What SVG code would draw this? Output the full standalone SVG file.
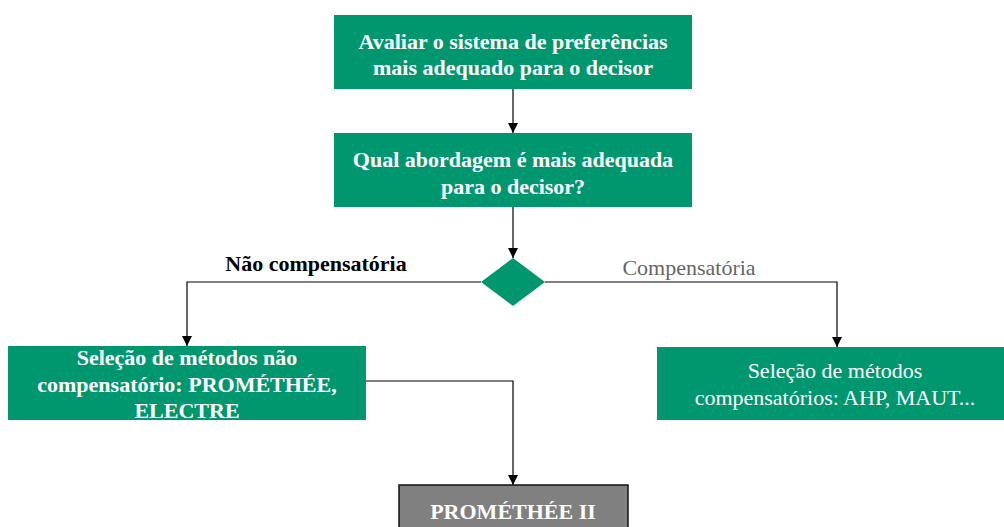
<svg xmlns="http://www.w3.org/2000/svg" width="1004" height="527" viewBox="0 0 1004 527">
<style>
.box{fill:#00976F;}
.t{font-family:"Liberation Serif",serif;font-size:22px;fill:#fff;text-anchor:middle;}
.b{font-weight:bold;}
.line{fill:none;stroke:#000;stroke-width:1.2;}
</style>
<defs>
<marker id="ah" viewBox="0 0 10 10" refX="10" refY="5" markerWidth="10" markerHeight="10" markerUnits="userSpaceOnUse" orient="auto">
<path d="M0,0 L10,5 L0,10 z" fill="#000"/>
</marker>
</defs>
<rect width="1004" height="527" fill="#fff"/>
<g id="connectors">
<path class="line" d="M513,89 V133" marker-end="url(#ah)"/>
<path class="line" d="M513,207 V258" marker-end="url(#ah)"/>
<path class="line" d="M481,282 H187 V346" marker-end="url(#ah)"/>
<path class="line" d="M545,282 H837 V347" marker-end="url(#ah)"/>
<path class="line" d="M366,381 H513 V485" marker-end="url(#ah)"/>
<text x="316" y="271" font-family="Liberation Serif,serif" font-size="22" font-weight="bold" fill="#000" text-anchor="middle">Não compensatória</text>
<text x="689" y="275" font-family="Liberation Serif,serif" font-size="22" fill="#666" text-anchor="middle">Compensatória</text>
</g>
<g id="n1">
<rect class="box" x="334" y="15" width="358" height="74"/>
<text class="t b" x="513" y="49">Avaliar o sistema de preferências</text>
<text class="t b" x="513" y="75">mais adequado para o decisor</text>
</g>
<g id="n2">
<rect class="box" x="334" y="133" width="358" height="74"/>
<text class="t b" x="513" y="167">Qual abordagem é mais adequada</text>
<text class="t b" x="513" y="194">para o decisor?</text>
</g>
<g id="n3">
<polygon class="box" points="513,258 545,282 513,306 481,282"/>
</g>
<g id="n4">
<rect class="box" x="8" y="346" width="358" height="74"/>
<text class="t b" x="187" y="365">Seleção de métodos não</text>
<text class="t b" x="187" y="392">compensatório: PROMÉTHÉE,</text>
<text class="t b" x="187" y="418">ELECTRE</text>
</g>
<g id="n5">
<rect class="box" x="657" y="347" width="347" height="73"/>
<text class="t" x="835" y="378">Seleção de métodos</text>
<text class="t" x="835" y="405">compensatórios: AHP, MAUT...</text>
</g>
<g id="n6">
<rect x="399" y="485" width="229" height="50" fill="#808080" stroke="#111" stroke-width="1.5"/>
<text class="t b" x="513" y="519">PROMÉTHÉE II</text>
</g>
</svg>
